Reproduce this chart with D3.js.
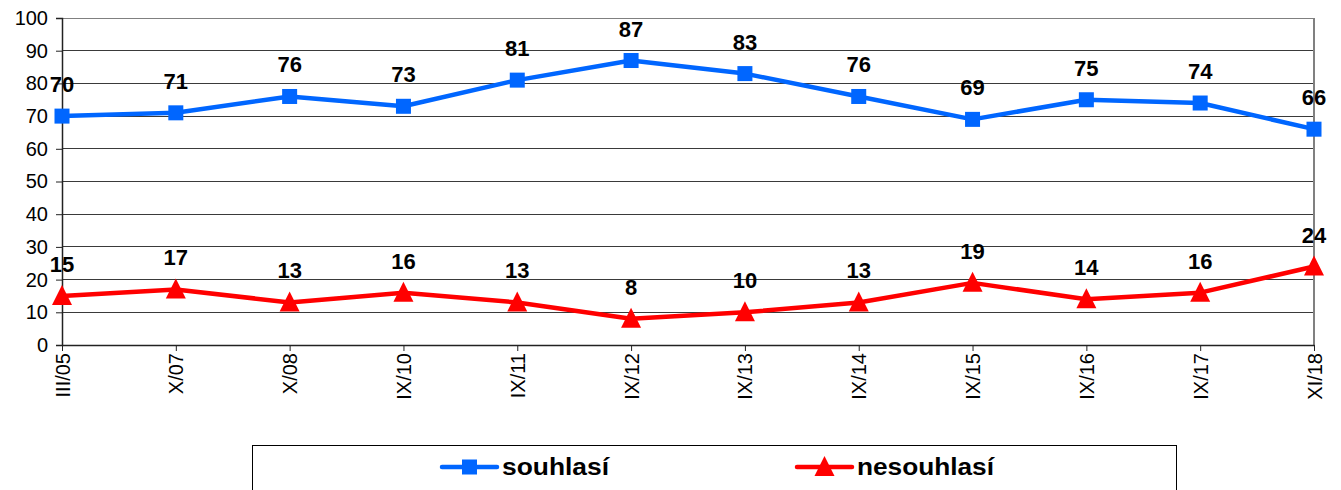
<!DOCTYPE html>
<html lang="en">
<head>
<meta charset="UTF-8">
<title>souhlasí / nesouhlasí</title>
<style>
  body { margin: 0; padding: 0; background: #fff; font-family: 'Liberation Sans', Arial, sans-serif; }
  svg { display: block; }
</style>
</head>
<body>
<div id="chart"></div>
<script src="https://d3js.org/d3.v7.min.js"></script>
<script>
const categories = ["III/05", "X/07", "X/08", "IX/10", "IX/11", "IX/12", "IX/13", "IX/14", "IX/15", "IX/16", "IX/17", "XI/18"];
const souhlasi = [70, 71, 76, 73, 81, 87, 83, 76, 69, 75, 74, 66];
const nesouhlasi = [15, 17, 13, 16, 13, 8, 10, 13, 19, 14, 16, 24];
const yTicks = [0, 10, 20, 30, 40, 50, 60, 70, 80, 90, 100];

const width = 1341, height = 490;
const plotLeft = 62, plotRight = 1314, plotTop = 18, plotBottom = 345;
const font = "'Liberation Sans', Arial, sans-serif";

const svg = d3.select("#chart").append("svg")
    .attr("width", width)
    .attr("height", height);

const x = d3.scalePoint().domain(categories).range([plotLeft, plotRight]);
const y = d3.scaleLinear().domain([0, 100]).range([plotBottom, plotTop]);

// grid lines
svg.append("g")
    .selectAll("line")
    .data(yTicks.filter(d => d > 0))
    .join("line")
    .attr("x1", plotLeft).attr("x2", plotRight)
    .attr("y1", d => y(d)).attr("y2", d => y(d))
    .attr("stroke", d => d === 100 ? "#808080" : "#3a3a3a")
    .attr("stroke-width", 1)
    .attr("shape-rendering", "crispEdges");

// right border
svg.append("line")
    .attr("x1", plotRight).attr("x2", plotRight)
    .attr("y1", plotTop).attr("y2", plotBottom)
    .attr("stroke", "#808080")
    .attr("stroke-width", 2);

// y axis
const yAxis = svg.append("g")
    .attr("transform", `translate(${plotLeft},0)`)
    .call(d3.axisLeft(y).tickValues(yTicks).tickSize(6).tickPadding(8));
yAxis.select(".domain").attr("stroke", "#222").attr("stroke-width", 1.5);
yAxis.selectAll(".tick line").attr("stroke", "#222");
yAxis.selectAll("text")
    .attr("font-family", font)
    .attr("font-size", 20)
    .attr("fill", "#000");

// x axis
const xAxis = svg.append("g")
    .attr("transform", `translate(0,${plotBottom})`)
    .call(d3.axisBottom(x).tickSize(6).tickSizeOuter(0));
xAxis.select(".domain").attr("stroke", "#222").attr("stroke-width", 1.5);
xAxis.selectAll(".tick line").attr("stroke", "#222");
xAxis.selectAll("text")
    .attr("font-family", font)
    .attr("font-size", 20)
    .attr("fill", "#000")
    .attr("transform", "rotate(-90)")
    .attr("text-anchor", "end")
    .attr("dy", "0.35em")
    .attr("x", -8)
    .attr("y", 0);

const line = d3.line().x((d, i) => x(categories[i])).y(d => y(d));

const series = [
  { values: souhlasi, color: "#0066ff", shape: "square" },
  { values: nesouhlasi, color: "#ff0000", shape: "triangle" }
];

function marker(g, shape, color) {
  if (shape === "square") {
    g.append("rect").attr("x", -7.5).attr("y", -7.5).attr("width", 15).attr("height", 15).attr("fill", color);
  } else {
    g.append("path").attr("d", "M0,-11L10,9L-10,9Z").attr("fill", color);
  }
}

series.forEach(s => {
  svg.append("path")
      .datum(s.values)
      .attr("d", line)
      .attr("fill", "none")
      .attr("stroke", s.color)
      .attr("stroke-width", 4.5)
      .attr("stroke-linejoin", "round");

  s.values.forEach((v, i) => {
    const g = svg.append("g").attr("transform", `translate(${x(categories[i])},${y(v)})`);
    marker(g, s.shape, s.color);
  });

  svg.append("g")
      .selectAll("text")
      .data(s.values)
      .join("text")
      .attr("x", (d, i) => x(categories[i]))
      .attr("y", d => y(d) - 24)
      .attr("text-anchor", "middle")
      .attr("font-family", font)
      .attr("font-weight", "bold")
      .attr("font-size", 22)
      .attr("fill", "#000")
      .text(d => d);
});

// legend
svg.append("rect")
    .attr("x", 252.5).attr("y", 445.5)
    .attr("width", 924).attr("height", 60)
    .attr("fill", "none")
    .attr("stroke", "#000")
    .attr("stroke-width", 1);

const legendItems = [
  { label: "souhlasí", color: "#0066ff", shape: "square", x: 442, len: 107 },
  { label: "nesouhlasí", color: "#ff0000", shape: "triangle", x: 797, len: 137 }
];

legendItems.forEach(item => {
  const ly = 467;
  svg.append("line")
      .attr("x1", item.x).attr("x2", item.x + 55)
      .attr("y1", ly).attr("y2", ly)
      .attr("stroke", item.color)
      .attr("stroke-width", 4.5)
      .attr("stroke-linecap", "round");
  const g = svg.append("g").attr("transform", `translate(${item.x + 27.5},${ly})`);
  marker(g, item.shape, item.color);
  svg.append("text")
      .attr("x", item.x + 60)
      .attr("y", ly)
      .attr("dy", "0.35em")
      .attr("font-family", font)
      .attr("font-weight", "bold")
      .attr("font-size", 23)
      .attr("textLength", item.len)
      .attr("lengthAdjust", "spacingAndGlyphs")
      .attr("fill", "#000")
      .text(item.label);
});
</script>
</body>
</html>
